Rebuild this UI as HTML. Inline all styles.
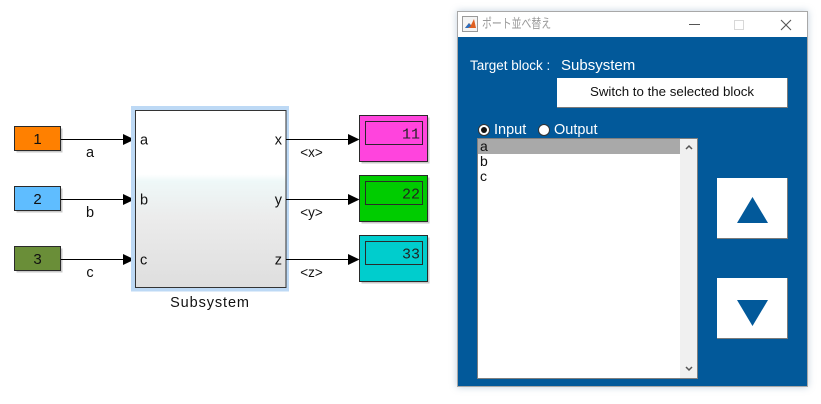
<!DOCTYPE html>
<html><head><meta charset="utf-8"><style>
html,body{margin:0;padding:0;background:#fff;width:821px;height:404px;overflow:hidden;position:relative;font-family:"Liberation Sans","Noto Sans CJK JP",sans-serif;}
.a{position:absolute;}
.win{left:457px;top:11px;width:349px;height:374px;border:1px solid #a8a8a8;background:#02599a;box-shadow:0 0 7px rgba(120,150,180,0.45);}
.tb{left:0;top:0;width:349px;height:25px;background:#fff;}
.wt{color:#fff;font-size:13px;line-height:16px;white-space:nowrap;}
.btn{background:#fff;border-right:1px solid #7a7a7a;border-bottom:1px solid #7a7a7a;box-sizing:border-box;}
</style></head><body>
<svg class="a" style="left:0;top:0" width="450" height="404" xmlns="http://www.w3.org/2000/svg" font-family="Liberation Sans, sans-serif">
<defs>
<linearGradient id="g" x1="0" y1="0" x2="0" y2="1">
<stop offset="0" stop-color="#ffffff"/>
<stop offset="0.36" stop-color="#ffffff"/>
<stop offset="0.40" stop-color="#eef8f8"/>
<stop offset="0.6" stop-color="#ececec"/>
<stop offset="1" stop-color="#dedede"/>
</linearGradient>
</defs>
<g stroke="#2a2a2a" stroke-width="1">
<rect x="16.5" y="128.5" width="46" height="24" fill="#c8c8c8" stroke="none"/>
<rect x="14.5" y="126.5" width="46" height="24" fill="#ff8000"/>
<rect x="16.5" y="188.5" width="46" height="24" fill="#c8c8c8" stroke="none"/>
<rect x="14.5" y="186.5" width="46" height="24" fill="#5fbdff"/>
<rect x="16.5" y="248.5" width="46" height="24" fill="#c8c8c8" stroke="none"/>
<rect x="14.5" y="246.5" width="46" height="24" fill="#6a8e38"/>
</g>
<g font-size="15" text-anchor="middle" fill="#111">
<text x="37.5" y="144">1</text>
<text x="37.5" y="204">2</text>
<text x="37.5" y="264">3</text>
</g>
<g stroke="#000" stroke-width="1">
<line x1="61" y1="139.5" x2="124" y2="139.5"/>
<line x1="61" y1="199.5" x2="124" y2="199.5"/>
<line x1="61" y1="259.5" x2="124" y2="259.5"/>
</g>
<g fill="#000">
<polygon points="123,134 134.5,139.5 123,145"/>
<polygon points="123,194 134.5,199.5 123,205"/>
<polygon points="123,254 134.5,259.5 123,265"/>
</g>
<g font-size="14.5" fill="#111" text-anchor="middle">
<text x="90" y="157">a</text>
<text x="90" y="217">b</text>
<text x="90" y="277">c</text>
</g>
<rect x="131" y="106" width="158" height="185.5" fill="#bdd9f5"/>
<rect x="135.5" y="110.5" width="150.5" height="177" fill="url(#g)" stroke="#333" stroke-width="1"/>
<g font-size="14.5" fill="#111">
<text x="140" y="144.5">a</text>
<text x="140" y="204.5">b</text>
<text x="140" y="264.5">c</text>
</g>
<g font-size="14.5" fill="#111" text-anchor="end">
<text x="282" y="144.5">x</text>
<text x="282" y="204.5">y</text>
<text x="282" y="264.5">z</text>
</g>
<text x="210" y="307" font-size="14.5" letter-spacing="0.9" text-anchor="middle" fill="#111">Subsystem</text>
<g stroke="#000" stroke-width="1">
<line x1="286" y1="139.5" x2="349" y2="139.5"/>
<line x1="286" y1="199.5" x2="349" y2="199.5"/>
<line x1="286" y1="259.5" x2="349" y2="259.5"/>
</g>
<g fill="#000">
<polygon points="348,134 359.5,139.5 348,145"/>
<polygon points="348,194 359.5,199.5 348,205"/>
<polygon points="348,254 359.5,259.5 348,265"/>
</g>
<g font-size="13.5" fill="#111" text-anchor="middle">
<text x="311.5" y="157">&lt;x&gt;</text>
<text x="311.5" y="217">&lt;y&gt;</text>
<text x="311.5" y="277">&lt;z&gt;</text>
</g>
<g stroke="#2a2a2a" stroke-width="1">
<rect x="361.5" y="117.5" width="68" height="46" fill="#c8c8c8" stroke="none"/>
<rect x="359.5" y="115.5" width="68" height="46" fill="#ff44dd"/>
<rect x="365.5" y="121.5" width="57" height="23" fill="none"/>
<rect x="361.5" y="177.5" width="68" height="46" fill="#c8c8c8" stroke="none"/>
<rect x="359.5" y="175.5" width="68" height="46" fill="#00cc00"/>
<rect x="365.5" y="181.5" width="57" height="23" fill="none"/>
<rect x="361.5" y="237.5" width="68" height="46" fill="#c8c8c8" stroke="none"/>
<rect x="359.5" y="235.5" width="68" height="46" fill="#00cdcd"/>
<rect x="365.5" y="241.5" width="57" height="23" fill="none"/>
</g>
<g font-family="Liberation Mono, monospace" font-size="15" fill="#222" text-anchor="end">
<text x="420" y="138.5">11</text>
<text x="420" y="198.5">22</text>
<text x="420" y="258.5">33</text>
</g>
</svg>

<div class="a win">
  <div class="a tb">
    <svg class="a" style="left:4px;top:4px" width="16" height="16">
      <rect x="0.5" y="0.5" width="15" height="15" fill="#f4f4f4" stroke="#9a9a9a"/>
      <polygon points="3,12 7,7 9,9 12,3 14,12" fill="#e06020"/>
      <polygon points="3,12 7,7 9,10 6,12" fill="#2a6fc0"/>
    </svg>
    <div class="a" style="left:24px;top:4px;font-size:13px;line-height:16px;color:#9a9a9a;white-space:nowrap;transform:scaleX(0.76);transform-origin:0 0;">ポート並べ替え</div>
    <div class="a" style="left:231px;top:12px;width:11px;height:1px;background:#555;"></div>
    <div class="a" style="left:276px;top:8px;width:8px;height:8px;border:1px solid #d8d8d8;"></div>
    <svg class="a" style="left:322px;top:7px" width="12" height="12"><path d="M1,1 L11,11 M11,1 L1,11" stroke="#555" stroke-width="1.1"/></svg>
  </div>
  <div class="a wt" style="left:12px;top:46px;font-size:13.5px;">Target block :</div>
  <div class="a wt" style="left:103px;top:45px;font-size:15px;line-height:18px;">Subsystem</div>
  <div class="a btn" style="left:99px;top:66px;width:231px;height:30px;font-size:13.3px;line-height:28px;text-align:center;color:#111;">Switch to the selected block</div>
  <svg class="a" style="left:19px;top:111px" width="14" height="14"><circle cx="7" cy="7" r="5.5" fill="#fff" stroke="#333" stroke-width="1"/><circle cx="7" cy="7" r="3" fill="#111"/></svg>
  <div class="a wt" style="left:36px;top:110px;font-size:14.5px;">Input</div>
  <svg class="a" style="left:79px;top:111px" width="14" height="14"><circle cx="7" cy="7" r="5.5" fill="#fff" stroke="#333" stroke-width="1"/></svg>
  <div class="a wt" style="left:96px;top:110px;font-size:14.5px;">Output</div>
  <div class="a" style="left:19px;top:126px;width:221px;height:241px;background:#fff;border:1px solid #7f7f7f;box-sizing:border-box;">
    <div class="a" style="left:0;top:0;width:202px;height:15px;background:#a9a9a9;"></div>
    <div class="a" style="left:2px;top:0;font-size:14px;line-height:15px;color:#111;">a<br>b<br>c</div>
    <div class="a" style="left:202px;top:0;width:17px;height:239px;background:#f0f0f0;"></div>
    <svg class="a" style="left:206px;top:4px" width="10" height="8"><path d="M2,6 L5,3 L8,6" stroke="#555" stroke-width="1.5" fill="none"/></svg>
    <svg class="a" style="left:206px;top:226px" width="10" height="8"><path d="M2,2 L5,5 L8,2" stroke="#555" stroke-width="1.5" fill="none"/></svg>
  </div>
  <div class="a btn" style="left:259px;top:166px;width:71px;height:61px;">
    <svg class="a" style="left:20px;top:19px" width="31" height="26"><polygon points="15.5,0 31,26 0,26" fill="#02599a"/></svg>
  </div>
  <div class="a btn" style="left:259px;top:266px;width:71px;height:61px;">
    <svg class="a" style="left:20px;top:22px" width="31" height="26"><polygon points="0,0 31,0 15.5,26" fill="#02599a"/></svg>
  </div>
</div>
</body></html>
